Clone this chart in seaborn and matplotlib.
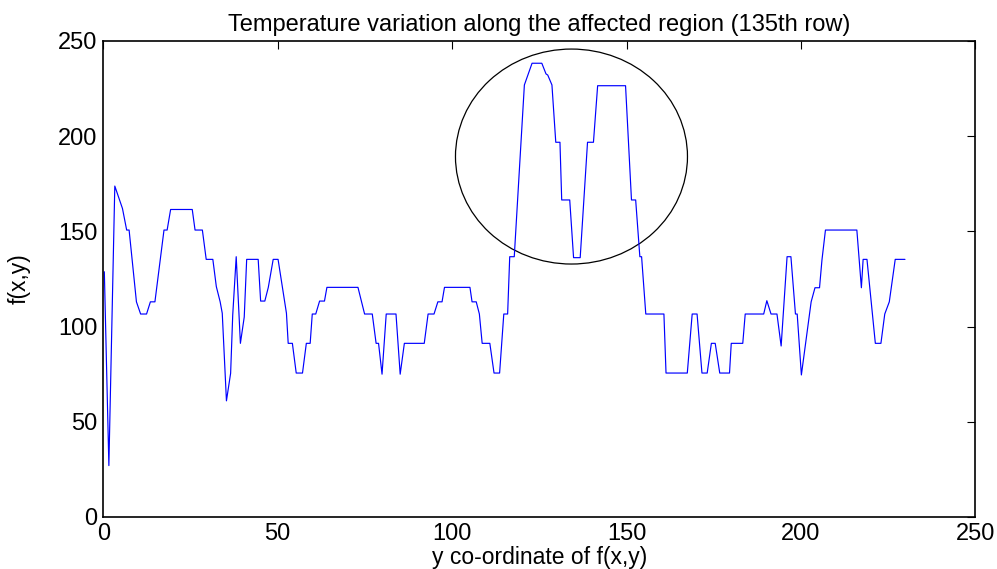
# Temperature profile along row 135, redrawn with seaborn
import matplotlib
matplotlib.use("Agg")
import matplotlib.pyplot as plt
from matplotlib.patches import Ellipse
import seaborn as sns

# vertices of the profile (y coordinate, f(x,y))
x_pts = [0.3, 1.6, 3.3, 5.5, 6.7, 7.4, 9.5, 10.7, 12.4, 13.5, 14.8, 17.4, 18.3, 19.3,
         25.5, 26.3, 28.4, 29.5, 31.4, 32.4, 33.5, 34.1, 35.3, 36.5, 37.1, 38.1, 39.3,
         40.4, 41.1, 44.4, 45.1, 46.3, 47.3, 48.7, 50.1, 52.5, 53.0, 54.2, 55.3, 57.1,
         58.2, 59.3, 59.9, 60.9, 62.0, 63.4, 64.1, 73.0, 73.9, 74.9, 77.1, 78.2, 78.9,
         79.9, 81.1, 83.9, 85.1, 86.3, 92.0, 93.1, 94.8, 95.9, 97.1, 97.8, 105.1, 105.7,
         106.9, 107.8, 108.6, 110.8, 112.0, 113.6, 114.8, 115.9, 116.5, 117.8, 120.7,
         122.9, 125.7, 126.9, 127.4, 128.6, 129.7, 130.9, 131.4, 133.7, 134.8, 136.7,
         138.8, 140.5, 141.7, 149.7, 151.4, 152.6, 153.8, 154.3, 155.5, 160.7, 161.3,
         167.4, 168.8, 170.2, 171.6, 173.1, 174.3, 175.4, 176.7, 179.5, 180.0, 183.3,
         184.0, 189.3, 190.2, 191.4, 193.1, 194.3, 196.0, 197.1, 198.4, 198.9, 200.1,
         202.9, 204.0, 205.3, 206.0, 207.0, 216.0, 217.3, 217.8, 218.9, 221.3, 222.9,
         224.0, 225.3, 227.0, 229.8]
y_pts = [128.8, 27.0, 173.8, 162.0, 150.7, 150.7, 113.0, 106.6, 106.6, 113.0, 113.0, 150.7, 150.7, 161.5,
         161.5, 150.7, 150.7, 135.3, 135.3, 121.0, 113.0, 107.0, 61.0, 75.5, 106.0, 136.7, 91.2,
         105.0, 135.3, 135.3, 113.4, 113.4, 120.6, 135.3, 135.3, 107.0, 91.2, 91.2, 75.6, 75.6,
         91.2, 91.2, 106.6, 106.6, 113.4, 113.4, 120.6, 120.6, 114.0, 106.6, 106.6, 91.2, 91.2,
         75.0, 106.6, 106.6, 75.0, 91.2, 91.2, 106.6, 106.6, 113.0, 113.0, 120.6, 120.6, 113.0,
         113.0, 106.6, 91.2, 91.2, 75.6, 75.6, 106.6, 106.6, 136.7, 136.7, 226.9,
         238.3, 238.3, 232.7, 232.1, 226.9, 196.8, 196.8, 166.5, 166.5, 136.2, 136.2,
         196.8, 196.8, 226.5, 226.5, 166.5, 166.5, 136.7, 136.7, 106.6, 106.6, 75.6,
         75.6, 106.6, 106.6, 75.6, 75.6, 91.2, 91.2, 75.6, 75.6, 91.2, 91.2,
         106.6, 106.6, 113.6, 106.6, 106.6, 89.8, 136.7, 136.7, 106.6, 106.6, 74.6,
         113.0, 120.4, 120.4, 135.0, 150.7, 150.7, 120.4, 135.3, 135.3, 91.2, 91.2,
         106.6, 113.0, 135.3, 135.3]

# circled hot region: centre, width, height in data units
ring_center = (134.2, 189.3)
ring_width = 66.5
ring_height = 112.9

ticks = [0, 50, 100, 150, 200, 250]

sns.set_style("white")
plt.rcParams['font.family'] = ['Liberation Sans', 'DejaVu Sans']
plt.rcParams['text.color'] = 'black'
plt.rcParams['axes.labelcolor'] = 'black'

fig = plt.figure(figsize=(9.97, 5.69), dpi=100)
ax = fig.add_axes([0.1036, 0.0914, 0.8748, 0.8366])

sns.lineplot(x=x_pts, y=y_pts, ax=ax, color='#0000ff', linewidth=0.85,
             estimator=None, sort=False)
ax.add_patch(Ellipse(ring_center, ring_width, ring_height, fill=False,
                     edgecolor='black', linewidth=0.9))

ax.set_xlim(0, 250)
ax.set_ylim(0, 250)
ax.set_xticks(ticks)
ax.set_yticks(ticks)
ax.tick_params(direction='in', length=6, width=0.8, top=True, right=True,
               labelsize=17, pad=4, colors='black')
for s in ax.spines.values():
    s.set_visible(True)
    s.set_color('black')
    s.set_linewidth(1.2)

ax.set_title("Temperature variation along the affected region (135th row)",
             fontsize=17, pad=7, color='black')
ax.set_xlabel("y co-ordinate of f(x,y)", fontsize=16.5, labelpad=1)
ax.set_ylabel("f(x,y)", fontsize=16.5, labelpad=20)

fig.savefig("out.png", dpi=100)
